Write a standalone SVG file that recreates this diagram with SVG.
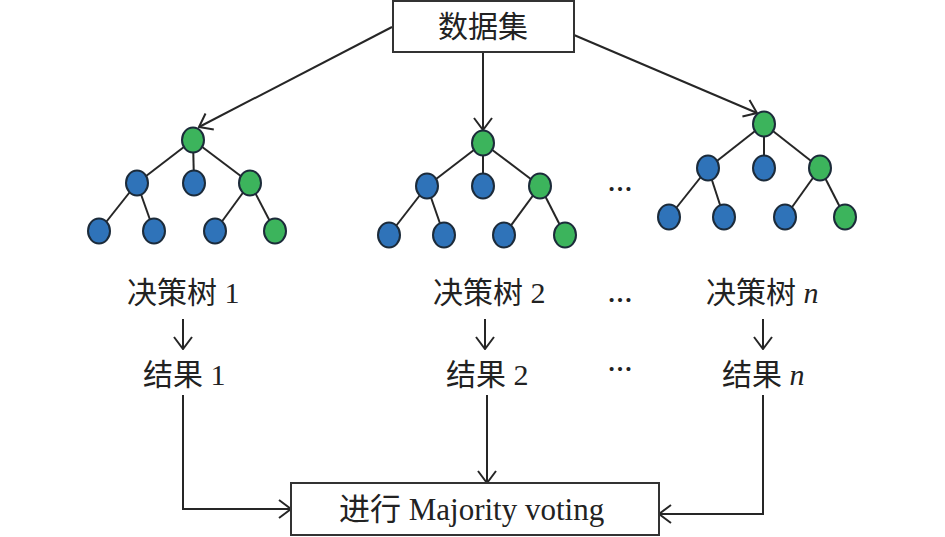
<svg xmlns="http://www.w3.org/2000/svg" width="945" height="537" viewBox="0 0 945 537">
<style>
.ln{fill:none;stroke:#262626;stroke-width:2}
.box{fill:#fff;stroke:#333;stroke-width:2}
.b{fill:#2f73b9;stroke:#1c2b3a;stroke-width:2}
.g{fill:#3cb45c;stroke:#1c2b3a;stroke-width:2}
.e{stroke:#262626;stroke-width:2}
.t{font-family:"Liberation Serif","Noto Sans CJK SC",serif;fill:#222}
.lab{font-size:30px}
.dots{font-family:"Liberation Serif",serif;font-size:25px;font-weight:bold;fill:#222;text-anchor:middle}
</style>
<defs>
<marker id="arr" viewBox="0 0 14 20" refX="13" refY="10" markerWidth="14" markerHeight="20" markerUnits="userSpaceOnUse" orient="auto">
<path d="M1,1 L13,10 L1,19" fill="none" stroke="#262626" stroke-width="2"/>
</marker>
</defs>
<rect width="945" height="537" fill="#fff"/>

<g id="connectors">
<line class="ln" x1="392" y1="27" x2="199" y2="127" marker-end="url(#arr)"/>
<line class="ln" x1="483" y1="52" x2="483" y2="130" marker-end="url(#arr)"/>
<line class="ln" x1="574" y1="35" x2="757" y2="113" marker-end="url(#arr)"/>
<line class="ln" x1="183" y1="319" x2="183" y2="349" marker-end="url(#arr)"/>
<line class="ln" x1="485" y1="319" x2="485" y2="349" marker-end="url(#arr)"/>
<line class="ln" x1="763" y1="319" x2="763" y2="349" marker-end="url(#arr)"/>
<path class="ln" d="M183,395 V509 H291" marker-end="url(#arr)"/>
<path class="ln" d="M487,395 V483" marker-end="url(#arr)"/>
<path class="ln" d="M763,395 V514 H659" marker-end="url(#arr)"/>
</g>

<g id="dataset">
<rect class="box" x="393" y="1" width="181" height="51"/>
<text class="t" x="483" y="37" font-size="30" text-anchor="middle">数据集</text>
</g>

<g id="tree1">
<g class="e">
<line x1="193" y1="140" x2="137" y2="183"/><line x1="193" y1="140" x2="194" y2="183"/><line x1="193" y1="140" x2="250" y2="183"/>
<line x1="137" y1="183" x2="99" y2="231"/><line x1="137" y1="183" x2="154" y2="231"/>
<line x1="250" y1="183" x2="215" y2="231"/><line x1="250" y1="183" x2="275" y2="231"/>
</g>
<ellipse class="g" cx="193" cy="140" rx="11" ry="12.5"/>
<ellipse class="b" cx="137" cy="183" rx="11" ry="12.5"/>
<ellipse class="b" cx="194" cy="183" rx="11" ry="12.5"/>
<ellipse class="g" cx="250" cy="183" rx="11" ry="12.5"/>
<ellipse class="b" cx="99" cy="231" rx="11" ry="12.5"/>
<ellipse class="b" cx="154" cy="231" rx="11" ry="12.5"/>
<ellipse class="b" cx="215" cy="231" rx="11" ry="12.5"/>
<ellipse class="g" cx="275" cy="231" rx="11" ry="12.5"/>
</g>

<g id="tree2">
<g class="e">
<line x1="483" y1="143" x2="427" y2="186"/><line x1="483" y1="143" x2="483" y2="186"/><line x1="483" y1="143" x2="540" y2="186"/>
<line x1="427" y1="186" x2="389" y2="235"/><line x1="427" y1="186" x2="444" y2="235"/>
<line x1="540" y1="186" x2="504" y2="235"/><line x1="540" y1="186" x2="565" y2="235"/>
</g>
<ellipse class="g" cx="483" cy="143" rx="11" ry="12.5"/>
<ellipse class="b" cx="427" cy="186" rx="11" ry="12.5"/>
<ellipse class="b" cx="483" cy="186" rx="11" ry="12.5"/>
<ellipse class="g" cx="540" cy="186" rx="11" ry="12.5"/>
<ellipse class="b" cx="389" cy="235" rx="11" ry="12.5"/>
<ellipse class="b" cx="444" cy="235" rx="11" ry="12.5"/>
<ellipse class="b" cx="504" cy="235" rx="11" ry="12.5"/>
<ellipse class="g" cx="565" cy="235" rx="11" ry="12.5"/>
</g>

<g id="tree3">
<g class="e">
<line x1="764" y1="124" x2="708" y2="168"/><line x1="764" y1="124" x2="764" y2="168"/><line x1="764" y1="124" x2="820" y2="168"/>
<line x1="708" y1="168" x2="669" y2="217"/><line x1="708" y1="168" x2="724" y2="217"/>
<line x1="820" y1="168" x2="785" y2="217"/><line x1="820" y1="168" x2="845" y2="217"/>
</g>
<ellipse class="g" cx="764" cy="124" rx="11" ry="12.5"/>
<ellipse class="b" cx="708" cy="168" rx="11" ry="12.5"/>
<ellipse class="b" cx="764" cy="168" rx="11" ry="12.5"/>
<ellipse class="g" cx="820" cy="168" rx="11" ry="12.5"/>
<ellipse class="b" cx="669" cy="217" rx="11" ry="12.5"/>
<ellipse class="b" cx="724" cy="217" rx="11" ry="12.5"/>
<ellipse class="b" cx="785" cy="217" rx="11" ry="12.5"/>
<ellipse class="g" cx="845" cy="217" rx="11" ry="12.5"/>
</g>

<g id="labels">
<text class="t lab" x="127" y="303">决策树 1</text>
<text class="t lab" x="433" y="303">决策树 2</text>
<text class="t lab" x="706" y="303">决策树 <tspan font-style="italic">n</tspan></text>
<text class="dots" x="620" y="190.5">…</text>
<text class="dots" x="620" y="301.5">…</text>
<text class="dots" x="620" y="370.5">…</text>
</g>

<g id="results">
<text class="t lab" x="143" y="385">结果 1</text>
<text class="t lab" x="446" y="385">结果 2</text>
<text class="t lab" x="722" y="385">结果 <tspan font-style="italic">n</tspan></text>
</g>

<g id="voting">
<rect class="box" x="291" y="483" width="368" height="52"/>
<text class="t" x="339" y="520" font-size="31">进行 Majority voting</text>
</g>
</svg>
